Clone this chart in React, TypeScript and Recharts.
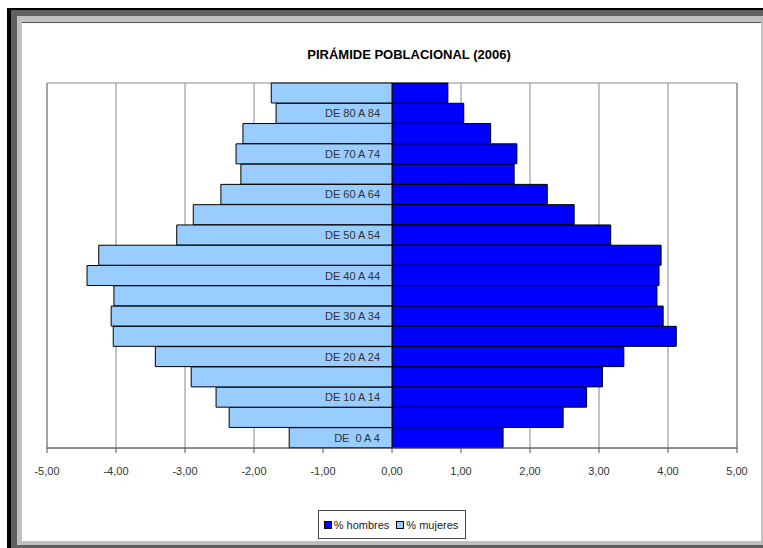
import React from "react";
import {
  BarChart,
  Bar,
  XAxis,
  YAxis,
  CartesianGrid,
  ReferenceArea,
  Legend,
  LabelList,
} from "recharts";

// age groups from youngest to oldest (bottom to top of the pyramid)
const AGE_GROUPS = [
  "DE  0 A 4",
  "DE  5 A 9",
  "DE 10 A 14",
  "DE 15 A 19",
  "DE 20 A 24",
  "DE 25 A 29",
  "DE 30 A 34",
  "DE 35 A 39",
  "DE 40 A 44",
  "DE 45 A 49",
  "DE 50 A 54",
  "DE 55 A 59",
  "DE 60 A 64",
  "DE 65 A 69",
  "DE 70 A 74",
  "DE 75 A 79",
  "DE 80 A 84",
  "DE 85 Y MÁS",
];

const HOMBRES = [
  1.61, 2.48, 2.82, 3.05, 3.36, 4.12, 3.93, 3.84, 3.87, 3.9, 3.17, 2.64, 2.25,
  1.77, 1.81, 1.43, 1.04, 0.81,
];

const MUJERES = [
  -1.49, -2.36, -2.55, -2.91, -3.43, -4.04, -4.07, -4.03, -4.42, -4.25, -3.12,
  -2.88, -2.48, -2.19, -2.26, -2.16, -1.68, -1.75,
];

const X_TICKS = [-5, -4, -3, -2, -1, 0, 1, 2, 3, 4, 5];

const FONT = '"Liberation Sans", Arial, sans-serif';

const data = AGE_GROUPS.map((age, i) => ({
  age,
  hombres: HOMBRES[i],
  mujeres: MUJERES[i],
}));

const fmt = (v: number) => v.toFixed(2).replace(".", ",");

// every second age group gets a label, right-aligned against the zero line
const renderAgeLabel = (props: any) => {
  const idx = AGE_GROUPS.indexOf(props.value);
  if (idx < 0 || idx % 2 !== 0) return null;
  const vb = props.viewBox || props;
  const x = Number(vb.x);
  const w = Number(vb.width);
  const y = Number(vb.y);
  const h = Number(vb.height);
  const right = w >= 0 ? x + w : x;
  return (
    <text
      x={right - 12}
      y={y + h / 2}
      textAnchor="end"
      dominantBaseline="central"
      fontSize={11}
      fontFamily={FONT}
      fill="#333"
      style={{ whiteSpace: "pre" }}
    >
      {props.value}
    </text>
  );
};

const renderLegend = (props: any) => {
  const payload = props.payload || [];
  return (
    <div style={{ display: "flex", justifyContent: "center" }}>
      <div
        style={{
          display: "flex",
          alignItems: "center",
          height: 27,
          padding: "0 7px 0 5px",
          border: "1px solid #444",
          background: "#fff",
          fontFamily: FONT,
          fontSize: 11,
          color: "#222",
        }}
      >
        {payload.map((entry: any, i: number) => (
          <span
            key={`leg-${i}`}
            style={{
              display: "flex",
              alignItems: "center",
              marginLeft: i === 0 ? 0 : 7,
            }}
          >
            <span
              style={{
                width: 6,
                height: 6,
                background: entry.color,
                border: "1px solid #000",
                marginRight: 2,
              }}
            />
            {entry.value}
          </span>
        ))}
      </div>
    </div>
  );
};

export default function App() {
  return (
    <div
      style={{
        position: "absolute",
        left: 0,
        top: 0,
        width: 763,
        height: 548,
        background: "#fff",
        overflow: "hidden",
      }}
    >
      {/* picture frame */}
      <div style={{ position: "absolute", left: 7, top: 8, width: 756, height: 540, background: "#000" }} />
      <div style={{ position: "absolute", left: 11, top: 10, width: 752, height: 538, background: "#5f5f5f" }} />
      <div style={{ position: "absolute", left: 17, top: 16, width: 746, height: 529, background: "#c0c0c0" }} />
      <div
        style={{
          position: "absolute",
          left: 22,
          top: 22,
          width: 739,
          height: 519,
          background: "#fff",
          borderTop: "1px solid #555",
          boxSizing: "border-box",
        }}
      />
      <div
        style={{
          position: "absolute",
          left: 209,
          top: 47,
          width: 400,
          textAlign: "center",
          fontFamily: FONT,
          fontWeight: "bold",
          fontSize: 13,
          color: "#000",
        }}
      >
        PIRÁMIDE POBLACIONAL (2006)
      </div>
      <div style={{ position: "absolute", left: 0, top: 0 }}>
        <BarChart
          width={763}
          height={548}
          data={data}
          layout="vertical"
          stackOffset="sign"
          barCategoryGap={0}
          barGap={0}
          margin={{ top: 83, right: 26, left: 47, bottom: 9 }}
        >
          <CartesianGrid horizontal={false} stroke="#888" />
          <ReferenceArea x1={-5} x2={5} fill="none" stroke="#888" ifOverflow="visible" />
          <XAxis
            type="number"
            domain={[-5, 5]}
            ticks={X_TICKS}
            tickFormatter={fmt}
            height={62}
            axisLine={{ stroke: "#555" }}
            tickLine={{ stroke: "#555" }}
            tickSize={5}
            tickMargin={14}
            tick={{ fontSize: 11, fill: "#333", fontFamily: FONT }}
            allowDataOverflow
          />
          <YAxis type="category" dataKey="age" reversed hide />
          <Bar
            dataKey="hombres"
            name="% hombres"
            stackId="p"
            fill="#0000FF"
            stroke="#000"
            strokeWidth={1}
            isAnimationActive={false}
          />
          <Bar
            dataKey="mujeres"
            name="% mujeres"
            stackId="p"
            fill="#99CCFF"
            stroke="#000"
            strokeWidth={1}
            isAnimationActive={false}
          >
            <LabelList dataKey="age" content={renderAgeLabel} />
          </Bar>
          <Legend verticalAlign="bottom" align="center" content={renderLegend} />
        </BarChart>
      </div>
    </div>
  );
}
